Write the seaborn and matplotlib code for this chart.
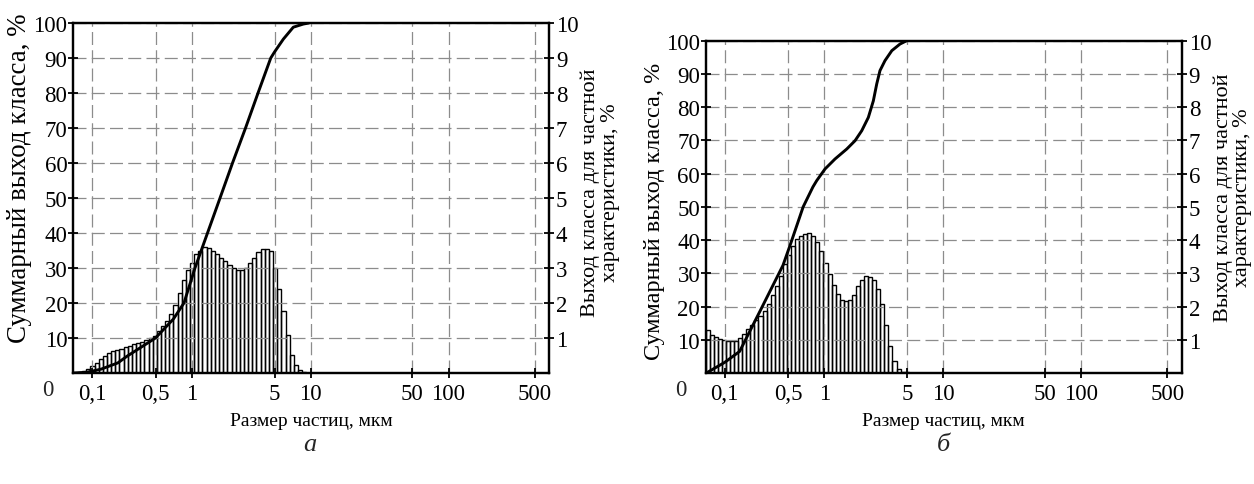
import numpy as np
import matplotlib
matplotlib.use("Agg")
import matplotlib.pyplot as plt
from matplotlib.ticker import NullLocator
import seaborn as sns

# ---- axis description -------------------------------------------------------
size_ticks = [0.1, 0.5, 1, 5, 10, 50, 100, 500]
size_tick_labels = ["0,1", "0,5", "1", "5", "10", "50", "100", "500"]
size_limits = (0.062, 660)

cum_ticks = [10, 20, 30, 40, 50, 60, 70, 80, 90, 100]
part_ticks = [1, 2, 3, 4, 5, 6, 7, 8, 9, 10]

# ---- sample "а" -------------------------------------------------------------
# partial yield of each size class, %
part_a = [0.02, 0.05, 0.11, 0.21, 0.30, 0.40, 0.48, 0.56, 0.62, 0.66,
          0.70, 0.75, 0.78, 0.82, 0.86, 0.90, 0.93, 1.00,
          1.05, 1.20, 1.35, 1.50, 1.70, 1.95, 2.30, 2.65, 2.95,
          3.15, 3.40, 3.50, 3.60, 3.57, 3.50, 3.40, 3.30, 3.20, 3.10,
          3.00, 2.95, 2.93, 3.00, 3.15, 3.30, 3.45, 3.53, 3.55, 3.50,
          3.00, 2.40, 1.76, 1.08, 0.52, 0.24, 0.08, 0.02]
part_a_range = (0.0702, 9.22)          # first / last class boundary, µm
# cumulative yield curve
cum_a_size = [0.063, 0.0875, 0.126, 0.193, 0.24, 0.50, 0.705, 0.865, 1.07,
              1.364, 1.739, 2.215, 2.851, 3.633, 4.65, 5.02, 5.93, 7.18,
              8.71, 9.7]
cum_a_value = [0, 0.2, 1.1, 2.9, 4.7, 10, 15.4, 20, 30,
               40, 50, 60, 70, 80, 90, 91.8, 95.4, 98.8,
               99.7, 100]

# ---- sample "б" -------------------------------------------------------------
part_b = [1.28, 1.15, 1.08, 1.03, 1.00, 0.97, 0.97, 0.97, 1.05, 1.18,
          1.33, 1.43, 1.58, 1.73, 1.88, 2.08, 2.35, 2.63, 2.93, 3.29,
          3.56, 3.82, 4.04, 4.12, 4.19, 4.22,
          4.12, 3.94, 3.66, 3.32, 2.98, 2.65, 2.38, 2.21, 2.18, 2.21,
          2.35, 2.61, 2.81, 2.91, 2.88, 2.81, 2.53, 2.08, 1.43, 0.82,
          0.37, 0.12, 0.04, 0.02]
part_b_range = (0.062, 5.15)
cum_b_size = [0.063, 0.1, 0.146, 0.253, 0.438, 0.525, 0.667, 0.805, 0.866,
              1.016, 1.233, 1.548, 1.818, 2.07, 2.353, 2.593, 2.77, 2.95,
              3.25, 3.71, 4.35, 4.95]
cum_b_value = [0, 3.2, 6.5, 19.4, 32.4, 39, 50, 56, 57.9,
               61.4, 64.4, 67.4, 69.9, 72.9, 76.9, 81.9, 87.0, 91.0,
               94.0, 97.0, 99.0, 100]

# ---- hand-drawn logarithmic size scale ---------------------------------------
# the decades of the printed scale are not equally long; the scale is
# piecewise logarithmic between these reference sizes
knot_sizes = [0.062, 0.1, 0.5, 1, 5, 10, 50, 100, 500, 660]
knot_pos = [0, 19, 82.5, 118.5, 201.5, 237.5, 339, 375.5, 461.5, 476]
KNOT_LOG = np.log10(knot_sizes)
KNOT_POS = np.asarray(knot_pos, float)


def _interp_ext(x, xp, fp):
    x = np.asarray(x, float)
    y = np.interp(x, xp, fp)
    lo_slope = (fp[1] - fp[0]) / (xp[1] - xp[0])
    hi_slope = (fp[-1] - fp[-2]) / (xp[-1] - xp[-2])
    y = np.where(x < xp[0], fp[0] + (x - xp[0]) * lo_slope, y)
    y = np.where(x > xp[-1], fp[-1] + (x - xp[-1]) * hi_slope, y)
    return y


def size_forward(x):
    x = np.asarray(x, float)
    lx = np.log10(np.clip(x, 1e-12, None))
    return _interp_ext(lx, KNOT_LOG, KNOT_POS)


def size_inverse(p):
    return 10 ** _interp_ext(p, KNOT_POS, KNOT_LOG)


# ---- style ------------------------------------------------------------------
sns.set_theme(style="white")
plt.rcParams["font.family"] = ["Liberation Serif", "DejaVu Serif"]

FRAME_LW = 1.6
GRID_KW = dict(color="#8c8c8c", linewidth=0.9, linestyle=(0, (10.4, 4.2)))
TICK_FS = 16.5

fig = plt.figure(figsize=(12.54, 4.85), dpi=100)


def draw_panel(rect, part, part_range, cum_size, cum_value, letter, letter_x,
               left_fs, left_y, right_y):
    ax = fig.add_axes(rect)
    ax.set_xscale("function", functions=(size_forward, size_inverse))
    ax2 = ax.twinx()

    # class boundaries equally spaced along the printed scale
    n = len(part)
    p_lo, p_hi = size_forward(part_range)
    edges = size_inverse(np.linspace(p_lo, p_hi, n + 1))
    ax2.bar(edges[:-1], part, width=np.diff(edges), align="edge",
            fill=False, edgecolor="black", linewidth=1.0)

    sns.lineplot(x=cum_size, y=cum_value, color="black", linewidth=2.1,
                 ax=ax, sort=False)

    # curve above the histogram, grid visible through the open bars
    ax.set_zorder(ax2.get_zorder() + 1)
    ax.patch.set_visible(False)

    ax.set_xlim(*size_limits)
    ax.set_ylim(0, 100)
    ax2.set_ylim(0, 10)

    ax.set_xticks(size_ticks, size_tick_labels)
    ax.xaxis.set_minor_locator(NullLocator())
    ax.set_yticks(cum_ticks, [str(v) for v in cum_ticks])
    ax2.set_yticks(part_ticks, [str(v) for v in part_ticks])

    ax.grid(True, which="major", axis="both", **GRID_KW)
    ax2.grid(False)

    ax.tick_params(axis="both", direction="inout", length=7, width=1.3,
                   labelsize=TICK_FS, colors="black", pad=0.5)
    ax.tick_params(axis="x", pad=3.5)
    ax.tick_params(axis="y", left=True, right=False)
    ax.tick_params(axis="x", bottom=True, top=False)
    ax2.tick_params(axis="y", direction="inout", length=7, width=1.3,
                    labelsize=TICK_FS, colors="black", pad=1.5, right=True)

    for a in (ax, ax2):
        for s in a.spines.values():
            s.set_visible(True)
            s.set_color("black")
            s.set_linewidth(FRAME_LW)

    h_px = rect[3] * fig.get_figheight() * fig.dpi
    w_px = rect[2] * fig.get_figwidth() * fig.dpi
    ax.set_xlabel("Размер частиц, мкм", fontsize=14, color="black")
    ax.xaxis.set_label_coords(0.5, -39 / h_px)
    ax.set_ylabel("Суммарный выход класса, %", fontsize=left_fs,
                  color="black")
    ax.yaxis.set_label_coords(-41 / w_px, left_y)
    ax2.set_ylabel("Выход класса для частной\nхарактеристики, %",
                   fontsize=16, color="black", linespacing=1.0)
    ax2.yaxis.set_label_coords(1 + 32 / w_px, right_y)

    # common origin label in the lower-left corner
    ax.annotate("0", xy=(0, 0), xycoords="axes fraction",
                xytext=(-18, -12), textcoords="offset points",
                ha="center", va="center", fontsize=TICK_FS)

    fig.text(letter_x, 1 - 445 / 485, letter, fontsize=19, style="italic",
             ha="center", va="center")


W, H = 1254, 485
draw_panel([73 / W, (H - 374) / H, 476 / W, 350 / H],
           part_a, part_a_range, cum_a_size, cum_a_value, "а", 310 / W,
           left_fs=19.4, left_y=0.56, right_y=0.517)
draw_panel([705.7 / W, (H - 374) / H, 476 / W, 332.3 / H],
           part_b, part_b_range, cum_b_size, cum_b_value, "б", 943 / W,
           left_fs=17.5, left_y=0.49, right_y=0.53)

fig.savefig("out.png", dpi=100, facecolor="white")
